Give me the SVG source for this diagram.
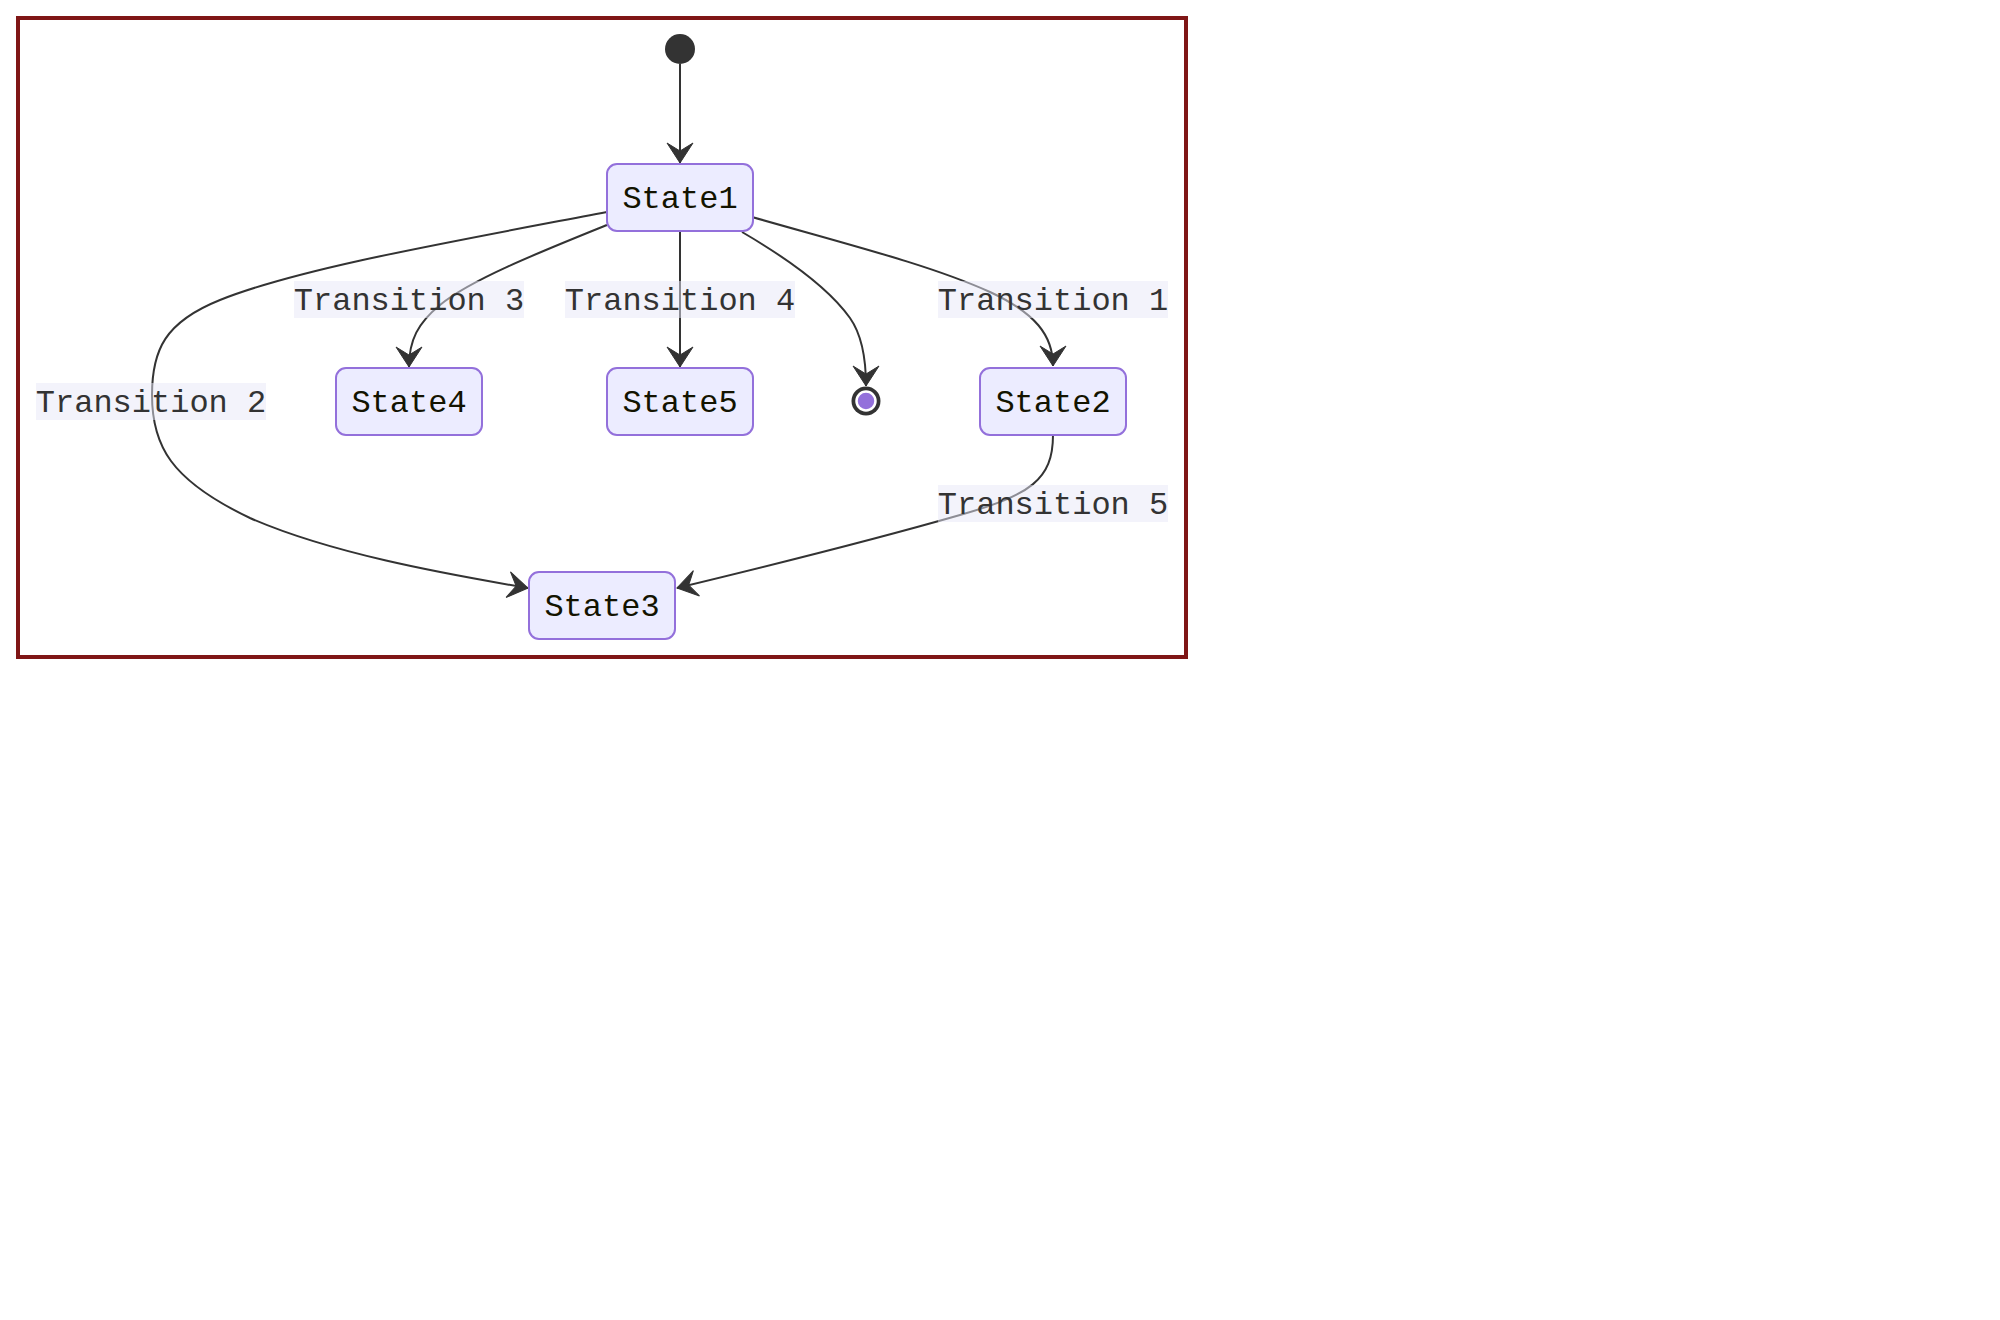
<svg xmlns="http://www.w3.org/2000/svg" width="2000" height="1320" viewBox="0 0 2000 1320">
<style>
.node rect{fill:#ECECFF;stroke:#9370DB;stroke-width:2}
.ntext{font-family:"Liberation Mono","Courier New",monospace;font-size:32px;fill:#131300;text-anchor:middle}
.edge{fill:none;stroke:#333;stroke-width:2}
.lbg{fill:#E8E8F8;fill-opacity:0.5}
.ltext{font-family:"Liberation Mono","Courier New",monospace;font-size:32px;fill:#333;text-anchor:middle}
</style>
<defs>
<marker id="arr" markerUnits="userSpaceOnUse" viewBox="-22 -15 23 30" markerWidth="23" markerHeight="30" refX="0" refY="0" orient="auto">
<path d="M0,0 L-20,-13 L-12,0 L-20,13 Z" fill="#333" stroke="#333" stroke-width="1" stroke-linejoin="miter"/>
</marker>
</defs>
<rect width="2000" height="1320" fill="#fff"/>
<rect x="18" y="18" width="1168" height="639" fill="none" stroke="#7f1616" stroke-width="4"/>
<g id="connectors">
<path class="edge" d="M680,64 L680,163" marker-end="url(#arr)"/>
<path class="edge" d="M752,217 C850,245 930,265 990,292 C1035,313 1053,335 1053,366" marker-end="url(#arr)"/>
<path class="edge" d="M607,212 C450,242 300,268 220,300 C165,322 152,350 152,395 C152,445 170,480 250,518 C330,553 440,573 528,588" marker-end="url(#arr)"/>
<path class="edge" d="M607,225 C540,252 470,280 440,305 C418,323 409,340 409,367" marker-end="url(#arr)"/>
<path class="edge" d="M680,231 L680,367" marker-end="url(#arr)"/>
<path class="edge" d="M742,232 C790,260 830,290 850,318 C862,335 866,360 866,386" marker-end="url(#arr)"/>
<path class="edge" d="M1053,435 C1053,480 1030,495 960,515 C880,538 760,568 677,588" marker-end="url(#arr)"/>
</g>
<g id="labels">
<g id="label-t1"><rect class="lbg" x="938" y="281" width="230" height="37"/><text class="ltext" x="1053" y="310">Transition 1</text></g>
<g id="label-t2"><rect class="lbg" x="36" y="383" width="230" height="37"/><text class="ltext" x="151" y="412">Transition 2</text></g>
<g id="label-t3"><rect class="lbg" x="294" y="281" width="230" height="37"/><text class="ltext" x="409" y="310">Transition 3</text></g>
<g id="label-t4"><rect class="lbg" x="565" y="281" width="230" height="37"/><text class="ltext" x="680" y="310">Transition 4</text></g>
<g id="label-t5"><rect class="lbg" x="938" y="485" width="230" height="37"/><text class="ltext" x="1053" y="514">Transition 5</text></g>
</g>
<g id="start"><circle cx="680" cy="49" r="15" fill="#333"/></g>
<g id="end"><circle cx="866" cy="401" r="14.5" fill="#333"/><circle cx="866" cy="401" r="9.5" fill="#9370DB" stroke="#fff" stroke-width="2.5"/></g>
<g id="State1" class="node"><rect x="607" y="164" width="146" height="67" rx="10"/><text class="ntext" x="680" y="208">State1</text></g>
<g id="State4" class="node"><rect x="336" y="368" width="146" height="67" rx="10"/><text class="ntext" x="409" y="412">State4</text></g>
<g id="State5" class="node"><rect x="607" y="368" width="146" height="67" rx="10"/><text class="ntext" x="680" y="412">State5</text></g>
<g id="State2" class="node"><rect x="980" y="368" width="146" height="67" rx="10"/><text class="ntext" x="1053" y="412">State2</text></g>
<g id="State3" class="node"><rect x="529" y="572" width="146" height="67" rx="10"/><text class="ntext" x="602" y="616">State3</text></g>
</svg>
